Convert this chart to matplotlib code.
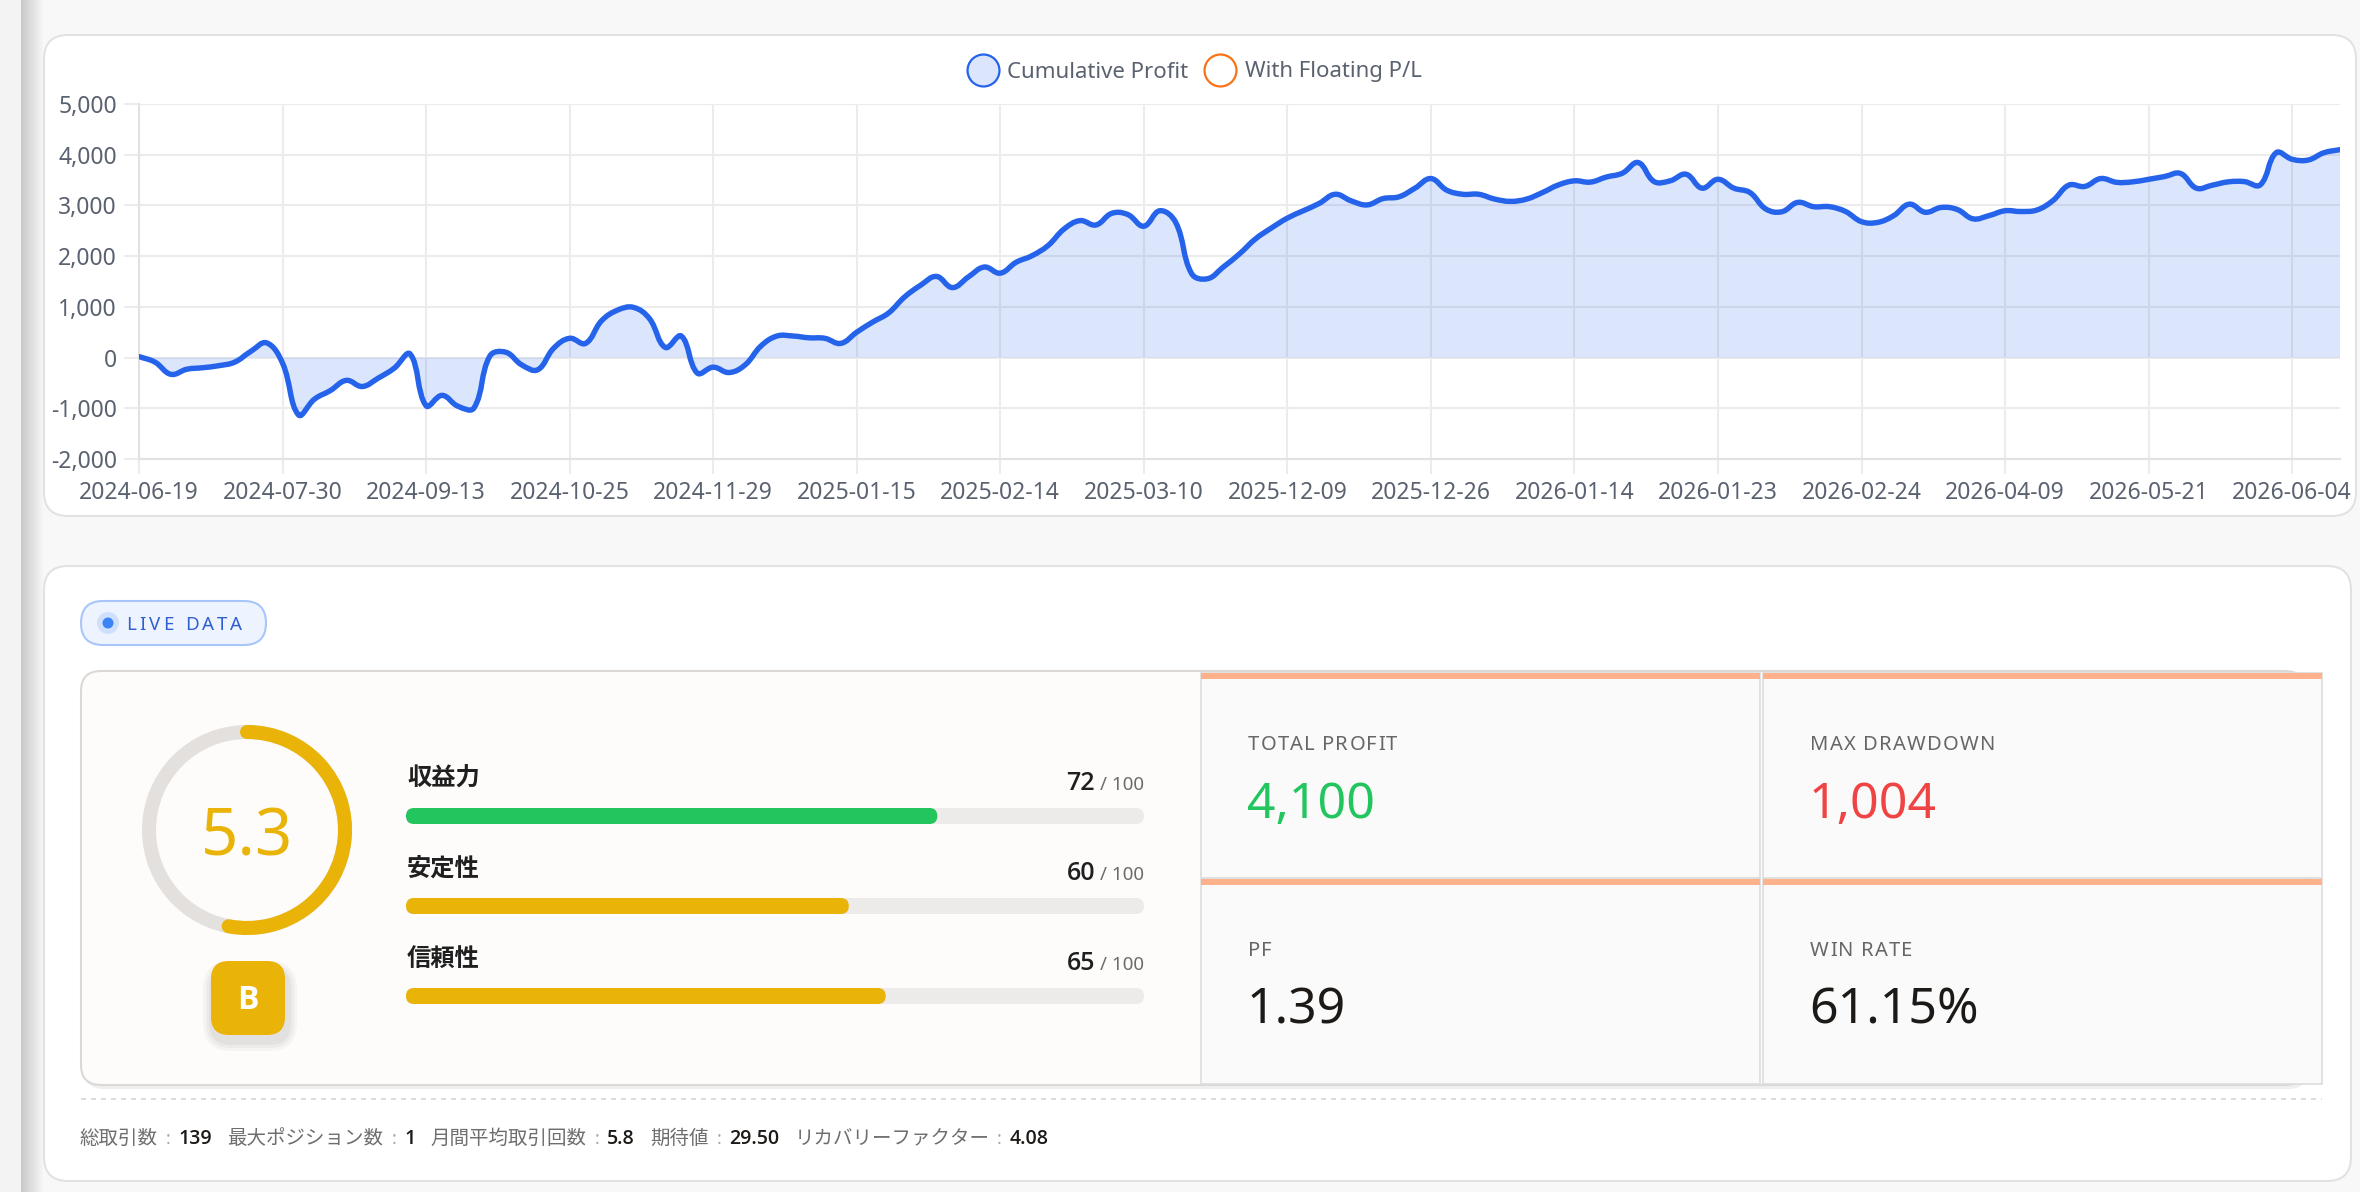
import numpy as np
import matplotlib
matplotlib.use('Agg')
import matplotlib.pyplot as plt
from matplotlib import font_manager
from matplotlib.path import Path
from matplotlib.patches import PathPatch, FancyBboxPatch, Rectangle, Circle, Arc
from matplotlib.lines import Line2D
from matplotlib.ticker import FuncFormatter
from matplotlib.colors import LinearSegmentedColormap

plt.rcParams['font.family'] = ['Noto Sans', 'Noto Sans CJK JP', 'DejaVu Sans']

W, H = 2360, 1192

# cumulative profit, one value per closed trade
profit = [
    20, -90, -330, -230, -200, -160, -90, 120, 290,
    -110, -1130, -820, -650, -450, -570, -405, -210, 70,
    -950, -745, -960, -995, 30, 105, -145, -240, 185,
    380, 280, 725, 935, 990, 770, 200, 425, -305,
    -190, -295, -145, 230, 425, 425, 390, 380, 280,
    500, 700, 880, 1195, 1425, 1600, 1380, 1590, 1785,
    1665, 1880, 2010, 2210, 2535, 2700, 2615, 2845, 2820,
    2590, 2895, 2665, 1655, 1555, 1790, 2045, 2340, 2555,
    2750, 2895, 3040, 3220, 3090, 3010, 3135, 3170, 3340,
    3530, 3300, 3220, 3220, 3125, 3080, 3125, 3255, 3405,
    3485, 3460, 3560, 3635, 3845, 3470, 3485, 3615, 3340,
    3515, 3340, 3255, 2930, 2875, 3060, 2975, 2975, 2880,
    2680, 2665, 2795, 3025, 2865, 2960, 2920, 2735, 2800,
    2895, 2880, 2910, 3095, 3400, 3375, 3530, 3455, 3465,
    3515, 3570, 3630, 3340, 3400, 3465, 3470, 3405, 4040,
    3910, 3895, 4040, 4100,
]
tick_labels = ['2024-06-19', '2024-07-30', '2024-09-13', '2024-10-25', '2024-11-29',
               '2025-01-15', '2025-02-14', '2025-03-10', '2025-12-09', '2025-12-26',
               '2026-01-14', '2026-01-23', '2026-02-24', '2026-04-09', '2026-05-21',
               '2026-06-04']
tick_step = 9
series_names = ['Cumulative Profit', 'With Floating P/L']

score = 5.3
grade = 'B'
sub_names = ['収益力', '安定性', '信頼性']
sub_scores = [72, 60, 65]
sub_colors = ['#22c55e', '#eab308', '#eab308']

stat_names = ['TOTAL PROFIT', 'MAX DRAWDOWN', 'PF', 'WIN RATE']
stat_values = ['4,100', '1,004', '1.39', '61.15%']
stat_colors = ['#22c55e', '#ef4444', '#1c1917', '#1c1917']

info_names = ['総取引数', '最大ポジション数', '月間平均取引回数', '期待値', 'リカバリーファクター']
info_values = ['139', '1', '5.8', '29.50', '4.08']

BLUE = '#2563eb'
FILL = (37 / 255, 99 / 255, 235 / 255, 0.16)
TICK_COLOR = '#5a6270'


# pick a latin family that really has a bold face
def has_bold(fam):
    for f in font_manager.fontManager.ttflist:
        if f.name != fam:
            continue
        w = f.weight
        if isinstance(w, str):
            if w in ('bold', 'semibold', 'demibold', 'heavy', 'black', 'extra bold'):
                return True
        elif w >= 600:
            return True
    return False


bold_latin = next((f for f in ['Noto Sans', 'Open Sans', 'Roboto', 'Lato',
                               'Liberation Sans', 'DejaVu Sans'] if has_bold(f)),
                  'DejaVu Sans')
BOLD_FAM = [bold_latin, 'Noto Sans CJK JP', 'DejaVu Sans']
CJK_BOLD = ['Noto Sans CJK JP', 'DejaVu Sans']

fig = plt.figure(figsize=(W / 100, H / 100), dpi=100, facecolor='#f8f8f8')
renderer = fig.canvas.get_renderer()

# overlay axes in pixel coordinates (y down) for the cards
ov = fig.add_axes([0, 0, 1, 1], zorder=0)
ov.axis('off')


def rbox(x0, y0, x1, y1, r, fc, ec='none', lw=0, z=1):
    p = FancyBboxPatch((x0, y0), x1 - x0, y1 - y0,
                       boxstyle='round,pad=0,rounding_size=%s' % r,
                       fc=fc, ec=ec, lw=lw, zorder=z)
    ov.add_patch(p)
    return p


def text_w(t):
    return t.get_window_extent(renderer).width


def spaced(x, y, s, track, **kw):
    # text with letter spacing
    for ch in s:
        if ch == ' ':
            x += kw.get('fontsize', 12) * 0.35 + track
            continue
        t = ov.text(x, y, ch, **kw)
        x += text_w(t) + track
    return x


# left sidebar shadow
ov.add_patch(Rectangle((0, 0), 21, H, fc='#f3f3f3', ec='none', zorder=0.2))
grad = np.linspace(0, 1, 50).reshape(1, -1)
cmap = LinearSegmentedColormap.from_list('shade', ['#c9c9c9', '#f8f8f8'])
ov.imshow(grad, extent=(21, 44, H, 0), cmap=cmap, aspect='auto', zorder=0.3)

# cards
rbox(44, 35, 2356, 516, 24, 'white', '#e2e2e2', 1.5)
rbox(44, 566, 2351, 1181, 24, 'white', '#e2e2e2', 1.5)

# ---- chart ----
ax = fig.add_axes([139 / W, 1 - 459 / H, 2201 / W, 355 / H], zorder=2)
ax.set_facecolor('none')

x = np.arange(len(profit))
y = np.array(profit, dtype=float)

# bezier control points like Chart.js (tension 0.4)
sx, sy = 2201 / (len(profit) - 1), 355 / 7000
tension = 0.4
cp_prev = []
cp_next = []
for i in range(len(x)):
    p = max(i - 1, 0)
    n = min(i + 1, len(x) - 1)
    d01 = np.hypot((x[i] - x[p]) * sx, (y[i] - y[p]) * sy)
    d12 = np.hypot((x[n] - x[i]) * sx, (y[n] - y[i]) * sy)
    tot = d01 + d12
    s01 = d01 / tot if tot else 0
    s12 = d12 / tot if tot else 0
    fa, fb = tension * s01, tension * s12
    cp_prev.append((x[i] - fa * (x[n] - x[p]), y[i] - fa * (y[n] - y[p])))
    cp_next.append((x[i] + fb * (x[n] - x[p]), y[i] + fb * (y[n] - y[p])))

verts = [(x[0], y[0])]
codes = [Path.MOVETO]
for i in range(len(x) - 1):
    verts += [cp_next[i], cp_prev[i + 1], (x[i + 1], y[i + 1])]
    codes += [Path.CURVE4] * 3

fill_verts = verts + [(x[-1], 0), (x[0], 0), (x[0], y[0])]
fill_codes = codes + [Path.LINETO, Path.LINETO, Path.CLOSEPOLY]
ax.add_patch(PathPatch(Path(fill_verts, fill_codes), fc=FILL, ec='none', zorder=2))
ax.add_patch(PathPatch(Path(verts, codes), fill=False, ec=BLUE, lw=3.9,
                       capstyle='round', joinstyle='round', zorder=3))

ax.set_xlim(0, len(profit) - 1)
ax.set_ylim(-2000, 5000)
ax.set_yticks(range(-2000, 5001, 1000))
ax.yaxis.set_major_formatter(FuncFormatter(lambda v, pos: '{:,}'.format(int(v))))
ax.set_xticks(x[::tick_step])
ax.set_xticklabels(tick_labels)
ax.grid(True, color='#ececec', lw=1.5, zorder=0)
ax.set_axisbelow(True)
ax.tick_params(axis='both', length=11, width=1.5, color='#ececec',
               labelsize=16.5, labelcolor=TICK_COLOR)
ax.tick_params(axis='y', pad=5)
ax.tick_params(axis='x', pad=5)
for s in ['top', 'right']:
    ax.spines[s].set_visible(False)
for s in ['left', 'bottom']:
    ax.spines[s].set_color('#e2e2e2')
    ax.spines[s].set_linewidth(1.5)

handles = [
    Line2D([], [], ls='none', marker='o', ms=23, mfc='#dbe5fb', mec=BLUE, mew=1.6),
    Line2D([], [], ls='none', marker='o', ms=23, mfc='white', mec='#f97316', mew=1.6),
]
fig.legend(handles, series_names, loc='center', bbox_to_anchor=(1196 / W, 1 - 72 / H),
           ncol=2, frameon=False, fontsize=16, labelcolor=TICK_COLOR,
           handletextpad=0.55, columnspacing=0.9, handlelength=1.1)

# ---- LIVE DATA pill ----
rbox(81, 601, 266, 645, 22, '#eef4ff', '#a9c6fb', 1.5, z=2)
ov.add_patch(Circle((108, 623), 11, fc='#cfe0fd', ec='none', zorder=3))
ov.add_patch(Circle((108, 623), 5.5, fc='#3b82f6', ec='none', zorder=4))
spaced(126, 630, 'LIVE DATA', 3.2, fontsize=13.5, color='#2f5fd0', va='baseline', zorder=4)

# ---- score card ----
rbox(84, 675, 2308, 1089, 20, '#efefef', 'none', 0, z=1.5)
rbox(81, 671, 2305, 1085, 20, '#fdfcfb', '#dcd8d5', 1.5, z=2)

# gauge
cx, cy, r = 247, 830, 98
ov.add_patch(Circle((cx, cy), r, fill=False, ec='#e4e0dd', lw=10.1, zorder=3))
arc = Arc((cx, cy), 2 * r, 2 * r, theta1=-90, theta2=-90 + 360 * score / 10,
          ec='#eab308', lw=10.1, zorder=4)
arc.set_capstyle('round')
ov.add_patch(arc)
ov.text(cx, 856, '%.1f' % score, ha='center', va='baseline', fontsize=47,
        color='#eab308', zorder=5)

# grade badge with soft shadow
for k, a in enumerate([0.03, 0.035, 0.04]):
    g = 10 - 3 * k
    rbox(211 - g + 2, 961 - g + 10, 285 + g + 2, 1035 + g + 6, 18 + g, (0, 0, 0, a), z=3)
rbox(211, 961, 285, 1035, 18, '#eab308', z=4)
ov.text(248, 1009, grade, ha='center', va='baseline', fontsize=23, fontweight='bold',
        family=BOLD_FAM, color='white', zorder=5)

# sub score bars
bar_x0, bar_x1 = 406, 1144
for k, (name, val, col) in enumerate(zip(sub_names, sub_scores, sub_colors)):
    ly = 778 + 90.5 * k
    by = 816 + 90 * k
    base = 790 + 90 * k
    ov.text(bar_x0 + 1, ly, name, ha='left', va='center', fontsize=17.5,
            fontweight='bold', family=CJK_BOLD, color='#1f1f1f', zorder=5)
    t = ov.text(bar_x1, base, '/ 100', ha='right', va='baseline', fontsize=13.5,
                color='#6b6b6b', zorder=5)
    ov.text(bar_x1 - text_w(t) - 5, base, str(val), ha='right', va='baseline',
            fontsize=18, fontweight='semibold', family=BOLD_FAM, color='#1f1f1f', zorder=5)
    rbox(bar_x0, by - 8, bar_x1, by + 8, 8, '#ecebe9', z=4)
    rbox(bar_x0, by - 8, bar_x0 + (bar_x1 - bar_x0) * val / 100, by + 8, 8, col, z=5)

# stat cells
cell_x = [1201, 1763]
cell_y = [673, 879]
cell_w, cell_h = 559, 205
for k, (name, val, col) in enumerate(zip(stat_names, stat_values, stat_colors)):
    rr, cc = divmod(k, 2)
    x0, y0 = cell_x[cc], cell_y[rr]
    ov.add_patch(Rectangle((x0, y0), cell_w, cell_h, fc='#fafafa', ec='#dddddd',
                           lw=1.2, zorder=3))
    ov.add_patch(Rectangle((x0, y0), cell_w, 6, fc='#fdb28b', ec='none', zorder=4))
    spaced(x0 + 47, y0 + 77, name, 1.2, fontsize=14.5, color='#666666',
           va='baseline', zorder=5)
    ov.text(x0 + 46, y0 + 145, val, ha='left', va='baseline', fontsize=36,
            color=col, zorder=5)

# dashed separator
ov.plot([81, 2322], [1099, 1099], ls=(0, (3, 3)), color='#d6d6d6', lw=1.2, zorder=2)

# info line
px = 80
for name, val in zip(info_names, info_values):
    t = ov.text(px, 1144, name, va='baseline', fontsize=14, color='#6e6e6e', zorder=5)
    px += text_w(t) + 8
    t = ov.text(px, 1144, ':', va='baseline', fontsize=13, color='#aaaaaa', zorder=5)
    px += text_w(t) + 8
    t = ov.text(px, 1144, val, va='baseline', fontsize=14, fontweight='semibold',
                family=BOLD_FAM, color='#1c1917', zorder=5)
    px += text_w(t) + 15

ov.set_xlim(0, W)
ov.set_ylim(H, 0)

fig.savefig('out.png', dpi=100, facecolor=fig.get_facecolor())
